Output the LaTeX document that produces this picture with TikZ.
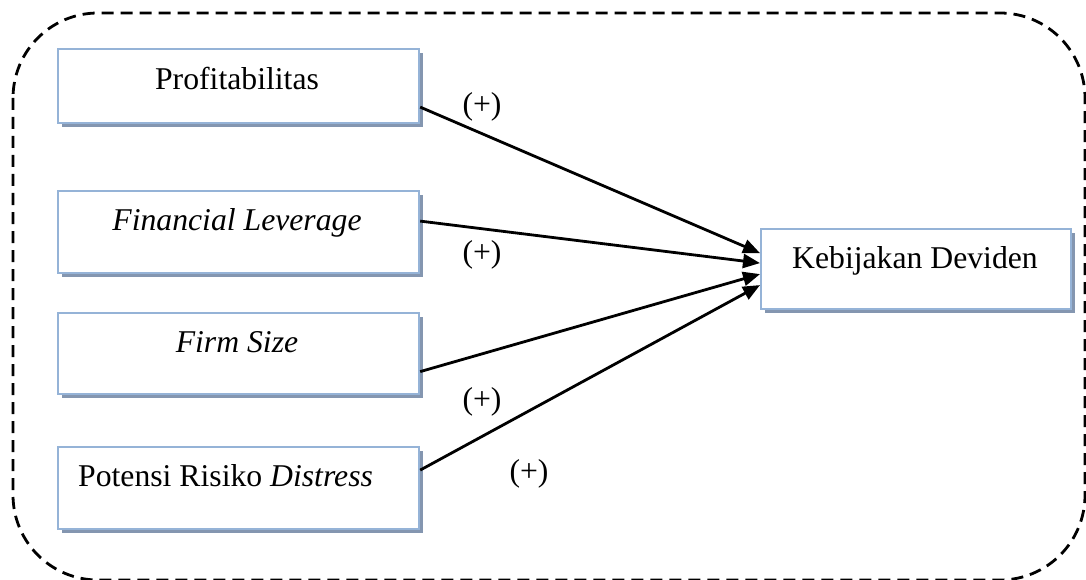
\documentclass[tikz,border=0pt]{standalone}
\usepackage{fontspec}
\setmainfont{Liberation Serif}
\usetikzlibrary{arrows.meta,shadows,calc}
\definecolor{boxblue}{RGB}{149,179,215}
\definecolor{shadowc}{RGB}{132,150,176}
\tikzset{
  vbox/.style={draw=boxblue, line width=2.2pt, fill=white, rectangle, inner sep=0pt,
    general shadow={shadow xshift=4pt, shadow yshift=-4pt, fill=shadowc}},
  lbl/.style={inner sep=0pt, font=\fontsize{31.7}{38}\selectfont},
  arr/.style={line width=2.8pt, -{Triangle[length=17pt,width=14pt]}},
  frame/.style={draw=black, line width=2.8pt, dash pattern=on 12pt off 7pt, rounded corners=85pt}
}
\begin{document}
\begin{tikzpicture}[x=1pt,y=-1pt]
\useasboundingbox (0,0) rectangle (1086,580);
\draw[frame] (13,13) rectangle (1085,580);
% boxes
\node[vbox, minimum width=361pt, minimum height=74pt, anchor=north west] (b1) at (57,48) {};
\node[vbox, minimum width=361pt, minimum height=82pt, anchor=north west] (b2) at (57,190) {};
\node[vbox, minimum width=361pt, minimum height=81pt, anchor=north west] (b3) at (57,312) {};
\node[vbox, minimum width=361pt, minimum height=82pt, anchor=north west] (b4) at (57,446) {};
\node[vbox, minimum width=310pt, minimum height=80pt, anchor=north west] (t) at (760,228) {};
% texts
\node[lbl, anchor=base] (t1) at (237,90) {Profitabilitas};
\node[lbl, anchor=base] (t2) at (237,230) {\itshape Financial Leverage};
\node[lbl, anchor=base] (t3) at (237,352) {\itshape Firm Size};
\node[lbl, anchor=base west] (t4) at (78,486) {Potensi Risiko \textit{Distress}};
\node[lbl, anchor=base west] (tt) at (792,268) {Kebijakan Deviden};
% arrows
\draw[arr] ($(b1.east)+(0,21)$) -- ($(t.west)+(0,-16)$);
\draw[arr] ($(b2.east)+(0,-11)$) -- ($(t.west)+(0,-6)$);
\draw[arr] ($(b3.east)+(0,18)$) -- ($(t.west)+(0,5)$);
\draw[arr] ($(b4.east)+(0,-18)$) -- ($(t.west)+(0,16)$);
% signs
\node[lbl] (p1) at (482,107) {(+)};
\node[lbl] (p2) at (482,255) {(+)};
\node[lbl] (p3) at (482,402) {(+)};
\node[lbl] (p4) at (529,474) {(+)};
\end{tikzpicture}
\end{document}
